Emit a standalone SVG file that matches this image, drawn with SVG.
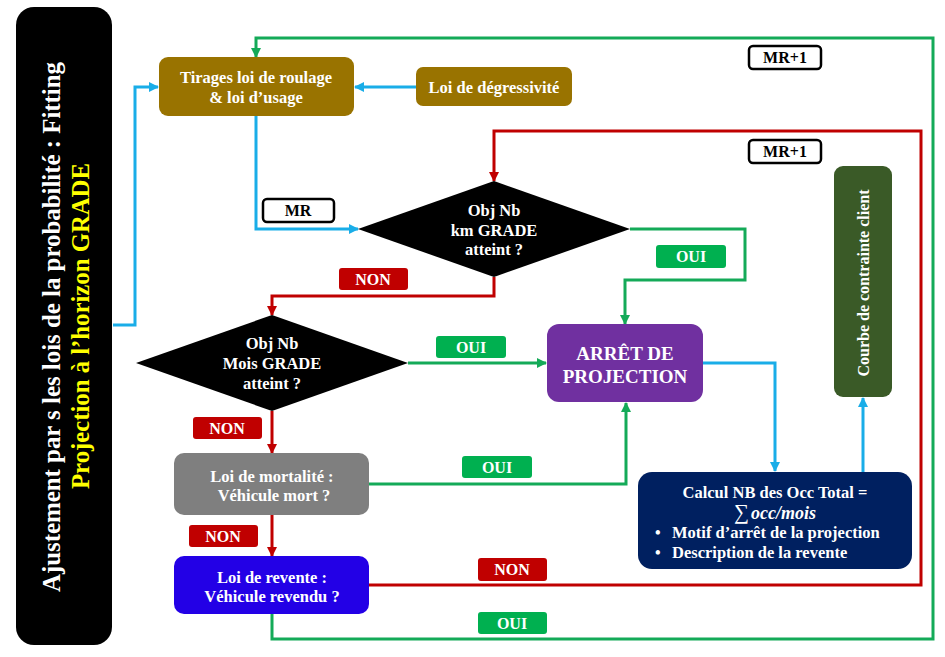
<svg xmlns="http://www.w3.org/2000/svg" width="945" height="657" viewBox="0 0 945 657">
<defs>
<style>
text{font-family:"Liberation Serif","Times New Roman",serif;font-weight:bold;}
.wt{fill:#ffffff;font-size:16.5px;text-anchor:middle;}
.lbl{fill:#ffffff;font-size:16px;text-anchor:middle;}
.mr{fill:#000000;font-size:16px;text-anchor:middle;}
.c{fill:none;stroke-width:3;}
.blue{stroke:#19ADE8;}
.green{stroke:#14AA58;}
.red{stroke:#C00000;}
</style>
<marker id="ab" viewBox="0 0 10 10" refX="9" refY="5" markerWidth="10" markerHeight="10" markerUnits="userSpaceOnUse" orient="auto"><path d="M0,0 L10,5 L0,10 z" fill="#19ADE8"/></marker>
<marker id="ag" viewBox="0 0 10 10" refX="9" refY="5" markerWidth="10" markerHeight="10" markerUnits="userSpaceOnUse" orient="auto"><path d="M0,0 L10,5 L0,10 z" fill="#14AA58"/></marker>
<marker id="ar" viewBox="0 0 10 10" refX="9" refY="5" markerWidth="10" markerHeight="10" markerUnits="userSpaceOnUse" orient="auto"><path d="M0,0 L10,5 L0,10 z" fill="#C00000"/></marker>
</defs>
<rect width="945" height="657" fill="#ffffff"/>

<g id="connectors">
<path class="c green" d="M272,614 V639 H933 V38 H256 V57" marker-end="url(#ag)"/>
<path class="c red" d="M369,585 H921 V131 H494 V181" marker-end="url(#ar)"/>
<path class="c blue" d="M113,325 H135 V87 H158" marker-end="url(#ab)"/>
<path class="c blue" d="M416,87 H355" marker-end="url(#ab)"/>
<path class="c blue" d="M256,116 V229 H358" marker-end="url(#ab)"/>
<path class="c red" d="M494,277 V296 H272 V315" marker-end="url(#ar)"/>
<path class="c green" d="M630,229 H745 V280 H625 V324" marker-end="url(#ag)"/>
<path class="c green" d="M408,363 H546" marker-end="url(#ag)"/>
<path class="c red" d="M272,411 V453" marker-end="url(#ar)"/>
<path class="c green" d="M369,484 H626 V403" marker-end="url(#ag)"/>
<path class="c red" d="M272,515 V556" marker-end="url(#ar)"/>
<path class="c blue" d="M703,363 H775 V471" marker-end="url(#ab)"/>
<path class="c blue" d="M863,472 V398" marker-end="url(#ab)"/>
</g>

<g id="title-bar">
<path d="M34,7 H94 A18,18 0 0 1 112,25 V627 A18,18 0 0 1 94,645 H34 A18,18 0 0 1 16,627 V25 A18,18 0 0 1 34,7 Z" fill="#000000"/>
<text transform="translate(60,327) rotate(-90)" text-anchor="middle" font-size="25" fill="#ffffff" textLength="530" lengthAdjust="spacingAndGlyphs">Ajustement par s les lois de la probabilité : Fitting</text>
<text transform="translate(89,326) rotate(-90)" text-anchor="middle" font-size="25" fill="#FFFF00" textLength="326" lengthAdjust="spacingAndGlyphs">Projection à l’horizon GRADE</text>
</g>

<g id="node-tirages">
<rect x="159" y="57" width="195" height="59" rx="9" fill="#997300"/>
<text class="wt" x="256" y="83">Tirages loi de roulage</text>
<text class="wt" x="256" y="103">&amp; loi d’usage</text>
</g>

<g id="node-degressivite">
<rect x="416" y="67" width="156" height="39" rx="7" fill="#997300"/>
<text class="wt" x="494" y="93">Loi de dégressivité</text>
</g>

<g id="node-diamond-km">
<polygon points="358,229 494,181 630,229 494,277" fill="#000000"/>
<text class="wt" x="494" y="216">Obj Nb</text>
<text class="wt" x="494" y="236">km GRADE</text>
<text class="wt" x="494" y="255">atteint ?</text>
</g>

<g id="node-diamond-mois">
<polygon points="136,363 272,315 408,363 272,411" fill="#000000"/>
<text class="wt" x="272" y="349">Obj Nb</text>
<text class="wt" x="272" y="369">Mois GRADE</text>
<text class="wt" x="272" y="389">atteint ?</text>
</g>

<g id="node-arret">
<rect x="547" y="324" width="156" height="78" rx="12" fill="#7030A0"/>
<text class="wt" x="625" y="360" style="font-size:19px">ARRÊT DE</text>
<text class="wt" x="625" y="383" style="font-size:19px">PROJECTION</text>
</g>

<g id="node-mortalite">
<rect x="174" y="453" width="195" height="62" rx="10" fill="#7F7F7F"/>
<text class="wt" x="272" y="482">Loi de mortalité :</text>
<text class="wt" x="274" y="501">Véhicule mort ?</text>
</g>

<g id="node-revente">
<rect x="174" y="556" width="195" height="58" rx="10" fill="#2300E6"/>
<text class="wt" x="272" y="583">Loi de revente :</text>
<text class="wt" x="272" y="602">Véhicule revendu ?</text>
</g>

<g id="node-calcul">
<rect x="638" y="472" width="274" height="97" rx="14" fill="#002060"/>
<text class="wt" x="775" y="498">Calcul NB des Occ Total =</text>
<text class="wt" x="775" y="519" style="font-size:18px"><tspan font-size="21" font-weight="normal">∑</tspan><tspan font-style="italic" dx="2">occ/mois</tspan></text>
<text x="655" y="538" fill="#ffffff" font-size="16">•</text>
<text x="672" y="538" fill="#ffffff" font-size="16.5">Motif d’arrêt de la projection</text>
<text x="655" y="558" fill="#ffffff" font-size="16">•</text>
<text x="672" y="558" fill="#ffffff" font-size="16.5">Description de la revente</text>
</g>

<g id="node-courbe">
<rect x="834" y="166" width="58" height="231" rx="9" fill="#3A5A27"/>
<text transform="translate(869,283) rotate(-90)" text-anchor="middle" font-size="16" fill="#ffffff">Courbe de contrainte client</text>
</g>

<g id="labels">
<g id="label-mr1a"><rect x="749" y="46" width="72" height="23" rx="4" fill="#ffffff" stroke="#000000" stroke-width="2.5"/><text class="mr" x="785" y="63">MR+1</text></g>
<g id="label-mr1b"><rect x="749" y="140" width="72" height="23" rx="4" fill="#ffffff" stroke="#000000" stroke-width="2.5"/><text class="mr" x="785" y="157">MR+1</text></g>
<g id="label-mr"><rect x="263" y="199" width="71" height="23" rx="4" fill="#ffffff" stroke="#000000" stroke-width="2.5"/><text class="mr" x="298" y="216">MR</text></g>
<g id="label-non1"><rect x="339" y="268" width="69" height="22" rx="3" fill="#C00000"/><text class="lbl" x="373" y="285">NON</text></g>
<g id="label-oui1"><rect x="656" y="245" width="70" height="23" rx="3" fill="#00B050"/><text class="lbl" x="691" y="262">OUI</text></g>
<g id="label-oui2"><rect x="436" y="336" width="70" height="22" rx="3" fill="#00B050"/><text class="lbl" x="471" y="353">OUI</text></g>
<g id="label-non2"><rect x="193" y="417" width="69" height="22" rx="3" fill="#C00000"/><text class="lbl" x="227" y="434">NON</text></g>
<g id="label-oui3"><rect x="462" y="456" width="70" height="22" rx="3" fill="#00B050"/><text class="lbl" x="497" y="473">OUI</text></g>
<g id="label-non3"><rect x="189" y="525" width="69" height="22" rx="3" fill="#C00000"/><text class="lbl" x="223" y="542">NON</text></g>
<g id="label-non4"><rect x="478" y="558" width="69" height="23" rx="3" fill="#C00000"/><text class="lbl" x="512" y="575">NON</text></g>
<g id="label-oui4"><rect x="478" y="612" width="69" height="22" rx="3" fill="#00B050"/><text class="lbl" x="512" y="629">OUI</text></g>
</g>
</svg>
